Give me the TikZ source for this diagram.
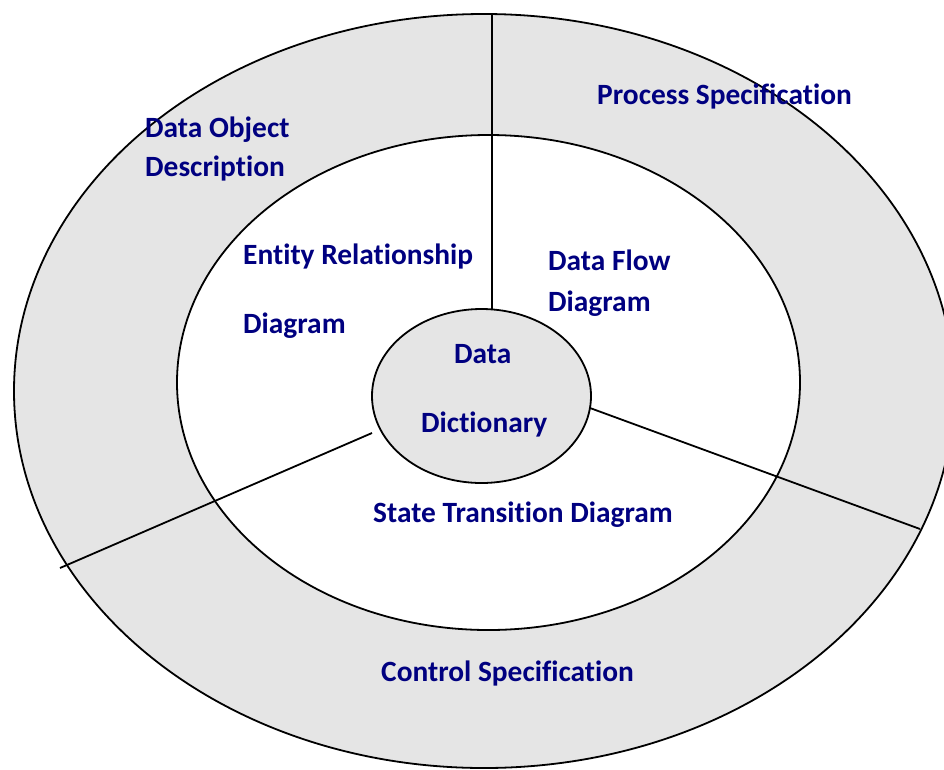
\documentclass[tikz,border=0pt]{standalone}
\usepackage{fontspec}
\setmainfont[Ligatures=NoCommon]{Carlito}
\usetikzlibrary{shapes.geometric}
\definecolor{labelnavy}{RGB}{0,0,128}
\definecolor{ringgray}{RGB}{229,229,229}

\begin{document}
\begin{tikzpicture}[x=1pt,y=-1pt,
  ring/.style={ellipse, draw=black, line width=1.8pt, inner sep=0pt},
  lbl/.style={anchor=base west, inner sep=0pt, text=labelnavy,
    font=\bfseries\fontsize{29.4}{35}\selectfont},
  divider/.style={draw=black, line width=1.8pt}]
  \useasboundingbox (0,0) rectangle (944,769);
  \clip (0,0) rectangle (944,769);

  % outer ring and inner white field
  \node[ring, fill=ringgray, minimum width=940pt, minimum height=754pt] (outer) at (484,391) {};
  \node[ring, fill=white, minimum width=623pt, minimum height=495pt] (inner) at (488.5,382.5) {};

  % ends of the three dividers
  \coordinate (topend) at (492,14);
  \coordinate (topstart) at (492,312);
  \coordinate (leftstart) at (372,433);
  \coordinate (leftend) at (60,568);
  \coordinate (rightstart) at (590,408);
  \coordinate (rightend) at (920,529);

  \draw[divider] (topstart) -- (topend);
  \draw[divider] (leftstart) -- (leftend);
  \draw[divider] (rightstart) -- (rightend);

  % central data dictionary
  \node[ring, fill=ringgray, minimum width=219pt, minimum height=174pt] (dict) at (481.5,396) {};

  % labels
  \node[lbl] (ps) at (597,104) {Process Specification};
  \node[lbl] (dod1) at (145,137) {Data Object};
  \node[lbl] (dod2) at (145,176) {Description};
  \node[lbl] (erd1) at (243,264) {Entity Relationship};
  \node[lbl] (erd2) at (243,333) {Diagram};
  \node[lbl] (dfd1) at (548,270) {Data Flow};
  \node[lbl] (dfd2) at (548,311) {Diagram};
  \node[lbl] (dd1) at (454,363) {Data};
  \node[lbl] (dd2) at (421,432) {Dictionary};
  \node[lbl] (std) at (373,522) {State Transition Diagram};
  \node[lbl] (cs) at (381,681) {Control Specification};
\end{tikzpicture}
\end{document}
